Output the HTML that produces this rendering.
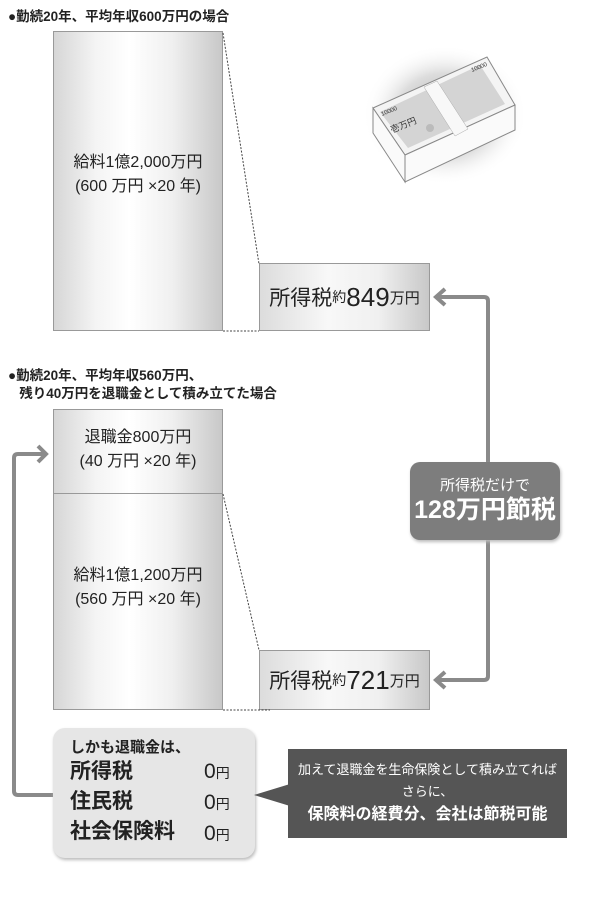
<!DOCTYPE html>
<html><head><meta charset="utf-8"><style>
body{margin:0;width:600px;height:900px;background:#fff;position:relative;overflow:hidden;font-family:"Liberation Sans","Noto Sans CJK JP",sans-serif;color:#222}
.a{position:absolute}
.bar{position:absolute;border:1px solid #999;box-sizing:border-box;background:linear-gradient(90deg,#d6d6d6 0%,#f4f4f4 25%,#ffffff 45%,#f0f0f0 70%,#c8c8c8 100%)}
.t{position:absolute;text-align:center;font-size:16px;line-height:24px;color:#222}
.tax{position:absolute;border:1px solid #999;box-sizing:border-box;background:linear-gradient(90deg,#dcdcdc 0%,#f8f8f8 40%,#f0f0f0 70%,#c8c8c8 100%);font-size:21px;display:flex;align-items:center;justify-content:center;white-space:nowrap}
</style></head><body>
<div class="a" style="left:8px;top:5px;font-size:13.5px;font-weight:bold;">●勤続20年、平均年収600万円の場合</div>
<div class="bar" style="left:53px;top:31px;width:170px;height:300px"></div>
<div class="t" style="left:53px;top:151px;width:170px">給料1億2,000万円<br>(600 万円 ×20 年)</div>
<div class="tax" style="left:259px;top:263px;width:171px;height:68px">所得税<span style="font-size:14px">約</span><b style="font-size:26px;font-weight:normal">849</b><span style="font-size:15px">万円</span></div>

<div class="a" style="left:8px;top:367px;font-size:13.5px;font-weight:bold;line-height:18px">●勤続20年、平均年収560万円、<br>&nbsp;&nbsp;&nbsp;残り40万円を退職金として積み立てた場合</div>
<div class="bar" style="left:53px;top:409px;width:170px;height:301px"></div>
<div class="a" style="left:53px;top:493px;width:170px;height:1px;background:#999"></div>
<div class="t" style="left:53px;top:426px;width:170px">退職金800万円<br>(40 万円 ×20 年)</div>
<div class="t" style="left:53px;top:564px;width:170px">給料1億1,200万円<br>(560 万円 ×20 年)</div>
<div class="tax" style="left:259px;top:650px;width:171px;height:60px">所得税<span style="font-size:14px">約</span><b style="font-size:26px;font-weight:normal">721</b><span style="font-size:15px">万円</span></div>

<svg class="a" style="left:0;top:0" width="600" height="900">
<line x1="223" y1="33" x2="259" y2="264" stroke="#444" stroke-width="1" stroke-dasharray="2,1.5"/>
<line x1="223" y1="331" x2="259" y2="331" stroke="#444" stroke-width="1" stroke-dasharray="2,1.5"/>
<line x1="223" y1="494" x2="259" y2="650" stroke="#444" stroke-width="1" stroke-dasharray="2,1.5"/>
<line x1="223" y1="710" x2="270" y2="710" stroke="#444" stroke-width="1" stroke-dasharray="2,1.5"/>
<path d="M436 297 H484 Q488 297 488 301 V676 Q488 680 484 680 H436" fill="none" stroke="#8a8a8a" stroke-width="4"/>
<path d="M445 289 L436 297 L445 305" fill="none" stroke="#8a8a8a" stroke-width="4"/>
<path d="M445 672 L436 680 L445 688" fill="none" stroke="#8a8a8a" stroke-width="4"/>
<path d="M53 795 H18 Q14 795 14 791 V458 Q14 454 18 454 H45" fill="none" stroke="#8a8a8a" stroke-width="4"/>
<path d="M38 446 L46 454 L38 462" fill="none" stroke="#8a8a8a" stroke-width="4"/>
<defs><radialGradient id="g"><stop offset="0" stop-color="#aaa"/><stop offset="0.6" stop-color="#ddd"/><stop offset="1" stop-color="#fff" stop-opacity="0"/></radialGradient></defs>
<ellipse cx="445" cy="115" rx="82" ry="70" fill="url(#g)"/>
<polygon points="373,108 487,57 515,105 405,155" fill="#f4f4f4" stroke="#888"/>
<polygon points="373,108 405,155 405,182 373,133" fill="#fafafa" stroke="#888"/>
<polygon points="405,155 515,105 515,130 405,182" fill="#fafafa" stroke="#888"/>
<polygon points="380,112 480,65 505,104 408,148" fill="#d4d4d4"/>
<polygon points="424,87 437,81 468,129 455,136" fill="#f8f8f8" stroke="#aaa" stroke-width="0.5"/>
<circle cx="430" cy="128" r="4" fill="#bbb"/>
<text x="392" y="133" font-size="9" fill="#333" transform="rotate(-22 392 133)">壱万円</text>
<text x="382" y="116" font-size="6" fill="#333" transform="rotate(-22 382 116)">10000</text>
<text x="472" y="72" font-size="6" fill="#333" transform="rotate(-22 472 72)">10000</text>
</svg>

<div class="a" style="left:410px;top:462px;width:150px;height:78px;background:#7d7d7d;border-radius:10px;color:#fff;text-align:center;box-shadow:1px 2px 3px #bbb">
<div style="font-size:15px;margin-top:15px;line-height:18px">所得税だけで</div>
<div style="font-size:25px;font-weight:bold;line-height:30px">128万円節税</div></div>

<div class="a" style="left:53px;top:728px;width:202px;height:130px;background:#e6e6e6;border-radius:12px;box-shadow:1px 2px 3px #bbb"></div>
<div class="a" style="left:70px;top:736px;font-size:15px;font-weight:bold">しかも退職金は、</div>
<div class="a" style="left:70px;top:757px;font-size:21px;font-weight:bold;line-height:30px">所得税<br>住民税<br>社会保険料</div>
<div class="a" style="left:204px;top:757px;font-size:21px;line-height:30px">0<span style="font-size:14px">円</span><br>0<span style="font-size:14px">円</span><br>0<span style="font-size:14px">円</span></div>
<svg class="a" style="left:250px;top:780px" width="40" height="30"><polygon points="4,15 40,4 40,26" fill="#555"/></svg>
<div class="a" style="left:288px;top:749px;width:279px;height:89px;background:#555;color:#fff;text-align:center">
<div style="font-size:13px;margin-top:10px;line-height:22px">加えて退職金を生命保険として積み立てれば<br>さらに、</div>
<div style="font-size:16px;font-weight:bold;line-height:24px">保険料の経費分、会社は節税可能</div></div>
</body></html>
